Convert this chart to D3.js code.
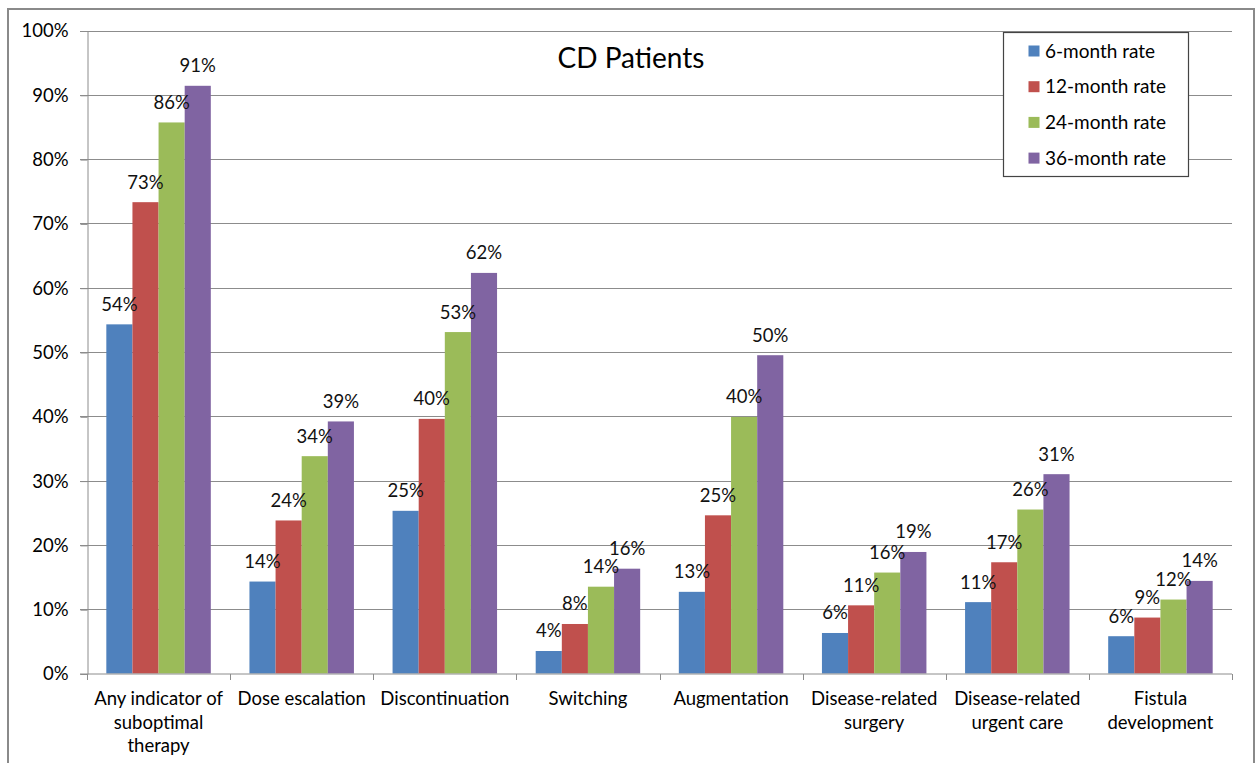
<!DOCTYPE html>
<head>
    <meta charset='utf-8'>
    <title>CD Patients</title>
    <script src='https://d3js.org/d3.v7.min.js'></script>
    <style>
        html, body {
            margin: 0px;
            padding: 0px;
            background: white;
        }
        svg {
            display: block;
            font-family: Lato, 'Open Sans', sans-serif;
        }
        .grid line {
            stroke: #8c8c8c;
            stroke-width: 1;
        }
        .axis path, .axis line {
            stroke: #8c8c8c;
        }
        .axis text {
            fill: #000;
        }
    </style>
</head>

<body>
    <div id='chart'></div>

    <script>
        // category labels (split into lines the way the original wraps them)
        var categories = [
            ['Any indicator of', 'suboptimal', 'therapy'],
            ['Dose escalation'],
            ['Discontinuation'],
            ['Switching'],
            ['Augmentation'],
            ['Disease-related', 'surgery'],
            ['Disease-related', 'urgent care'],
            ['Fistula', 'development']
        ];
        var seriesNames = ['6-month rate', '12-month rate', '24-month rate', '36-month rate'];
        var seriesColors = ['#4f81bd', '#c0504d', '#9bbb59', '#8064a2'];

        // values in %
        var rate6  = [54.3, 14.3, 25.3, 3.5, 12.7, 6.3, 11.1, 5.8];
        var rate12 = [73.3, 23.8, 39.6, 7.7, 24.6, 10.6, 17.3, 8.7];
        var rate24 = [85.7, 33.8, 53.1, 13.5, 39.9, 15.7, 25.5, 11.5];
        var rate36 = [91.4, 39.2, 62.3, 16.3, 49.5, 18.9, 31.0, 14.4];
        var yTicks = [0, 10, 20, 30, 40, 50, 60, 70, 80, 90, 100];

        var series = [rate6, rate12, rate24, rate36];

        var width = 1260, height = 763;
        var plotLeft = 87, plotRight = 1232, plotTop = 30.5, plotBottom = 673.5;

        var svg = d3.select('#chart').append('svg')
            .attr('width', width)
            .attr('height', height);

        // outer chart border
        svg.append('rect')
            .attr('x', 8).attr('y', 9)
            .attr('width', 1246).attr('height', 780)
            .attr('fill', 'white')
            .attr('stroke', '#8a8a8a')
            .attr('stroke-width', 2);

        var catIdx = d3.range(categories.length);

        var x0 = d3.scaleBand()
            .domain(catIdx)
            .range([plotLeft, plotRight]);

        var bw = x0.bandwidth();
        var x1 = d3.scaleBand()
            .domain(d3.range(series.length))
            .range([bw * 0.135, bw * (1 - 0.135)]);

        var y = d3.scaleLinear()
            .domain([0, 100])
            .range([plotBottom, plotTop]);

        // gridlines
        svg.append('g')
            .attr('class', 'grid')
            .selectAll('line')
            .data(yTicks.slice(1))
            .enter()
            .append('line')
            .attr('x1', plotLeft - 7)
            .attr('x2', plotRight)
            .attr('y1', function(d) { return Math.round(y(d)) + 0.5; })
            .attr('y2', function(d) { return Math.round(y(d)) + 0.5; });

        // y axis
        var yAxis = svg.append('g')
            .attr('class', 'axis')
            .attr('transform', 'translate(' + (plotLeft + 0.5) + ',0.5)')
            .call(d3.axisLeft(y)
                .tickValues(yTicks)
                .tickSize(7)
                .tickPadding(12)
                .tickFormat(function(d) { return d + '%'; }));
        yAxis.selectAll('text')
            .style('font-size', '18.5px')
            .style('font-family', 'Lato, sans-serif');

        // bars
        var groups = svg.append('g')
            .selectAll('g')
            .data(catIdx)
            .enter()
            .append('g')
            .attr('transform', function(i) { return 'translate(' + x0(i) + ',0)'; });

        groups.selectAll('rect')
            .data(function(i) { return series.map(function(s, k) { return {k: k, v: s[i]}; }); })
            .enter()
            .append('rect')
            .attr('x', function(d) { return x1(d.k); })
            .attr('width', x1.bandwidth())
            .attr('y', function(d) { return y(d.v); })
            .attr('height', function(d) { return plotBottom - y(d.v); })
            .attr('fill', function(d) { return seriesColors[d.k]; });

        // data labels
        groups.selectAll('text')
            .data(function(i) { return series.map(function(s, k) { return {k: k, v: s[i]}; }); })
            .enter()
            .append('text')
            .attr('x', function(d) { return x1(d.k) + x1.bandwidth() / 2; })
            .attr('y', function(d) { return y(d.v) - 13.5; })
            .attr('text-anchor', 'middle')
            .style('font-size', '18.5px')
            .style('fill', '#111')
            .text(function(d) { return Math.round(d.v) + '%'; });

        // x axis
        var xAxis = svg.append('g')
            .attr('class', 'axis')
            .attr('transform', 'translate(0,' + (plotBottom + 0.5) + ')');
        xAxis.append('line')
            .attr('x1', plotLeft - 7).attr('x2', plotRight)
            .attr('y1', 0).attr('y2', 0);
        xAxis.selectAll('.tick')
            .data(catIdx.concat([categories.length]))
            .enter()
            .append('line')
            .attr('x1', function(i) { return Math.round(plotLeft + i * bw) + 0.5; })
            .attr('x2', function(i) { return Math.round(plotLeft + i * bw) + 0.5; })
            .attr('y1', 0).attr('y2', 6);

        var catLabels = xAxis.selectAll('text')
            .data(catIdx)
            .enter()
            .append('text')
            .attr('x', function(i) { return x0(i) + bw / 2; })
            .attr('y', 31)
            .attr('text-anchor', 'middle')
            .style('font-size', '18.5px')
            .style('fill', '#000');
        catLabels.selectAll('tspan')
            .data(function(i) { return categories[i]; })
            .enter()
            .append('tspan')
            .attr('x', function() { return d3.select(this.parentNode).attr('x'); })
            .attr('dy', function(d, j) { return j === 0 ? 0 : 23.5; })
            .text(function(d) { return d; });

        // title
        svg.append('text')
            .attr('x', 631)
            .attr('y', 68)
            .attr('text-anchor', 'middle')
            .style('font-size', '28px')
            .style('fill', '#000')
            .text('CD Patients');

        // legend
        var legend = svg.append('g')
            .attr('transform', 'translate(1003.5,32.5)');
        legend.append('rect')
            .attr('width', 185)
            .attr('height', 144)
            .attr('fill', 'white')
            .attr('stroke', '#444')
            .attr('stroke-width', 1.2);
        var items = legend.selectAll('g')
            .data(seriesNames)
            .enter()
            .append('g')
            .attr('transform', function(d, i) { return 'translate(0,' + (18.5 + i * 35.7) + ')'; });
        items.append('rect')
            .attr('x', 25).attr('y', -5.5)
            .attr('width', 11).attr('height', 11)
            .attr('fill', function(d, i) { return seriesColors[i]; });
        items.append('text')
            .attr('x', 41.5)
            .attr('y', 6.5)
            .style('font-size', '19px')
            .style('fill', '#000')
            .text(function(d) { return d; });
    </script>
</body>
